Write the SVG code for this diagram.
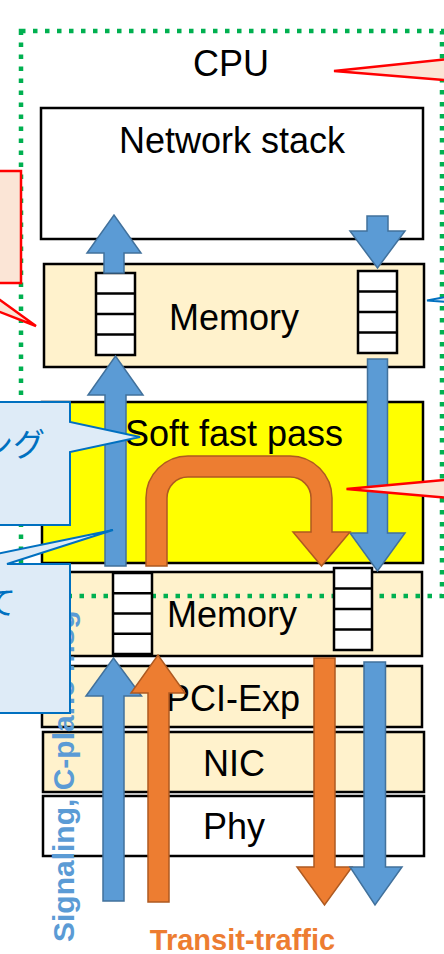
<svg xmlns="http://www.w3.org/2000/svg" width="444" height="954" viewBox="0 0 444 954">
<style>
.box{stroke:#000;stroke-width:2.5}
.mem{fill:#FFF2CC}
.lbl{font-family:"Liberation Sans",Arial,sans-serif;font-size:36px;fill:#000;text-anchor:middle}
.q{fill:#fff;stroke:#000;stroke-width:2.5}
.qd{stroke:#000;stroke-width:2.5}
.blue{fill:#5B9BD5;stroke:#41719C;stroke-width:1.5;stroke-linejoin:miter}
.orange{fill:#ED7D31;stroke:#AE5A21;stroke-width:1.5;stroke-linejoin:miter}
.cpu{fill:none;stroke:#00B050;stroke-width:4.5;stroke-dasharray:4.5 7.5}
.redc{fill:#FBE5D6;stroke:#FF0000;stroke-width:2.5}
.bluec{fill:#DEEBF7;stroke:#0070C0;stroke-width:2}
.jp{font-family:"Noto Sans CJK JP",sans-serif;font-size:32px;fill:#0070C0;text-anchor:end}
</style>

<g id="nodes">
  <g id="network-stack">
    <rect class="box" x="41" y="108" width="382" height="131" fill="#fff"/>
    <text class="lbl" x="232" y="153">Network stack</text>
  </g>
  <g id="memory-cpu">
    <rect class="box mem" x="44" y="264" width="380" height="103"/>
    <text class="lbl" x="234" y="330">Memory</text>
  </g>
  <g id="soft-fast-pass">
    <rect class="box" x="42" y="402" width="381" height="161" fill="#FFFF00"/>
    <text class="lbl" x="234" y="446">Soft fast pass</text>
  </g>
  <g id="memory-nic">
    <rect class="box mem" x="42" y="572" width="380" height="84"/>
    <text class="lbl" x="232" y="627">Memory</text>
  </g>
  <g id="pci-exp">
    <rect class="box mem" x="42" y="666" width="380" height="61"/>
    <text class="lbl" x="233" y="711">PCI-Exp</text>
  </g>
  <g id="nic">
    <rect class="box mem" x="43" y="732" width="381" height="60"/>
    <text class="lbl" x="234" y="776">NIC</text>
  </g>
  <g id="phy">
    <rect class="box" x="43" y="796" width="381" height="60" fill="#fff"/>
    <text class="lbl" x="234" y="839">Phy</text>
  </g>
</g>

<g id="cpu">
  <rect class="cpu" x="21" y="31" width="421" height="565"/>
  <text class="lbl" x="231" y="76">CPU</text>
</g>

<g id="queues">
  <g id="queue-1">
    <rect class="q" x="96" y="273" width="39" height="82"/>
    <path class="qd" d="M96,293.5H135M96,314H135M96,334.5H135"/>
  </g>
  <g id="queue-2">
    <rect class="q" x="358" y="271" width="39" height="82"/>
    <path class="qd" d="M358,291.5H397M358,312H397M358,332.5H397"/>
  </g>
  <g id="queue-3">
    <rect class="q" x="113" y="573" width="39" height="81"/>
    <path class="qd" d="M113,593.25H152M113,613.5H152M113,633.75H152"/>
  </g>
  <g id="queue-4">
    <rect class="q" x="334" y="568" width="38" height="82"/>
    <path class="qd" d="M334,588.5H372M334,609H372M334,629.5H372"/>
  </g>
</g>

<g id="connectors">
  <polygon class="blue" points="104,273 124,273 124,253 141,253 114,215 87,253 104,253"/>
  <polygon class="blue" points="367,216 388,216 388,231 405,231 377.5,268 350,231 367,231"/>
  <polygon class="blue" points="105,566 126,566 126,395 143,395 115.5,356 88,395 105,395"/>
  <polygon class="blue" points="367.5,359 387.5,359 387.5,533 405,533 377.5,571 350,533 367.5,533"/>
  <path class="orange" d="M146,566 L146,498 A42,42 0 0 1 188,456 L290,456 A42,42 0 0 1 332,498 L332,532 L350,532 L321.5,566 L293,532 L311,532 L311,498 A21,21 0 0 0 290,477 L188,477 A21,21 0 0 0 167,498 L167,566 Z"/>
  <polygon class="blue" points="103,901 124,901 124,696 141.5,696 113.5,658 86,696 103,696"/>
  <polygon class="orange" points="148,902 169,902 169,693 185,693 158,655 131,693 148,693"/>
  <polygon class="orange" points="314,658 335,658 335,867 352,867 324.5,905 297,867 314,867"/>
  <polygon class="blue" points="364,662 385.5,662 385.5,867 402,867 375,905 350,867 364,867"/>
</g>

<g id="flow-labels">
  <text transform="translate(74,942) rotate(-90)" font-family="'Liberation Sans',Arial,sans-serif" font-size="30" font-weight="bold" fill="#5B9BD5">Signaling, C-plane msg</text>
  <text x="242.5" y="950" text-anchor="middle" font-family="'Liberation Sans',Arial,sans-serif" font-size="29" font-weight="bold" fill="#ED7D31">Transit-traffic</text>
</g>

<g id="callouts">
  <path class="redc" d="M-300,171 H21 V283 H-23.5 L36,326 L-74.6,283 H-300 Z"/>
  <polygon class="redc" points="334,71 460,57.8 460,81.3"/>
  <polygon class="redc" points="346.5,489 460,478.5 460,499"/>
  <polygon class="bluec" points="427,300.5 460,294 460,303"/>
  <g id="callout-blue-1">
    <path class="bluec" d="M-300,402 H70 V422 L140,437 L70,452 V525 H-300 Z"/>
    <text class="jp" x="45" y="456">ング</text>
  </g>
  <g id="callout-blue-2">
    <path class="bluec" d="M-300,564 H-52 L113,530 L7,564 H70 V713 H-300 Z"/>
    <text class="jp" x="16" y="614">て</text>
  </g>
</g>
</svg>
